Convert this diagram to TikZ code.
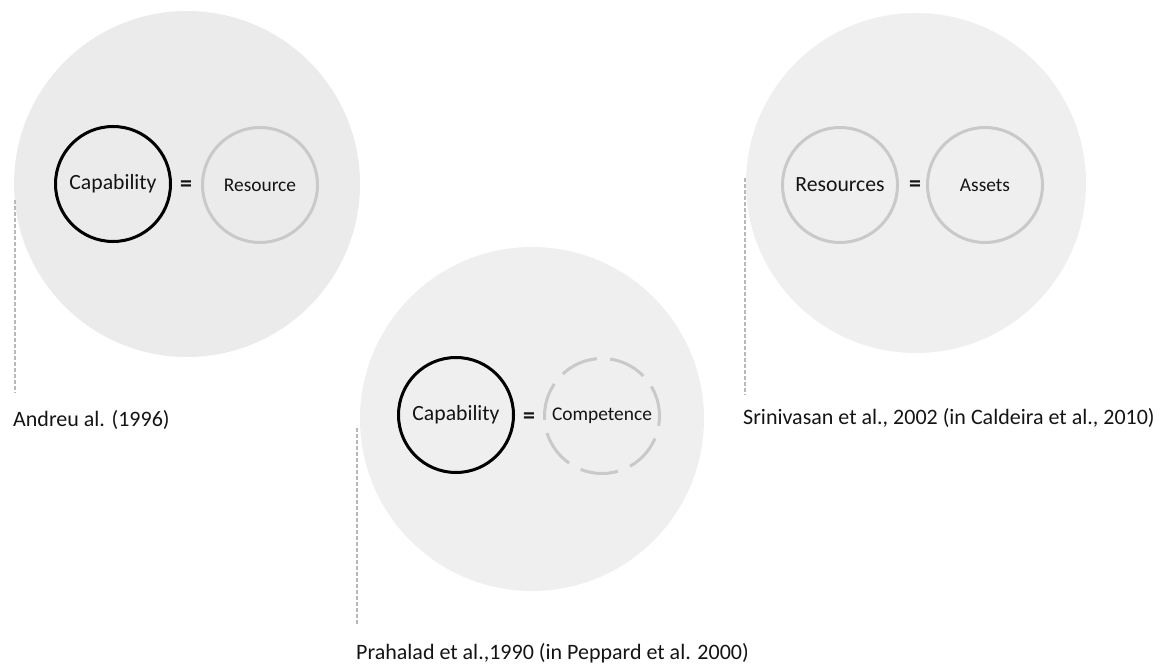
\documentclass[tikz,border=0pt]{standalone}
\usepackage{fontspec}
\setmainfont{Carlito}
\begin{document}
\begin{tikzpicture}[x=1pt,y=-1pt,
  disc/.style={circle,inner sep=0pt,minimum size=#1,draw=none},
  keyring/.style={circle,inner sep=0pt,minimum size=115pt,line width=3pt,draw=black},
  softring/.style={circle,inner sep=0pt,minimum size=115pt,line width=3pt,draw=ringgray},
  dashring/.style={softring,dash pattern=on 38pt off 13.2pt,dash phase=7pt},
  bigword/.style={font=\fontsize{21.7}{26}\selectfont,text=textgray},
  smallword/.style={font=\fontsize{19.4}{23}\selectfont,text=textgray},
  eqsign/.style={font=\fontsize{24}{28}\selectfont\bfseries,text=textgray},
  cite/.style={anchor=west,inner sep=0pt,font=\fontsize{22}{27}\selectfont,text=textgray},
  leader/.style={draw=leadergray,line width=1.2pt,dash pattern=on 4pt off 2pt}
]
\definecolor{ringgray}{HTML}{C9C9C9}
\definecolor{leadergray}{HTML}{B8B8B8}
\definecolor{textgray}{HTML}{141414}
\definecolor{discA}{HTML}{EBEBEB}
\definecolor{discB}{HTML}{EFEFEF}

\useasboundingbox (0,0) rectangle (1159,666);

% background discs
\node[disc=346pt,fill=discA] (d1) at (187,184) {};
\node[disc=344pt,fill=discB] (d2) at (532,419) {};
\node[disc=340pt,fill=discB] (d3) at (916,183) {};

% first group
\node[keyring,bigword] (cap1) at (113,184) {Capability};
\node[softring,smallword] (res1) at (260,185) {Resource};
\node[eqsign] (eq1) at (186,186) {=};

% second group
\node[keyring,bigword] (cap2) at (456,415) {Capability};
\node[dashring,smallword] (comp) at (602,416) {Competence};
\node[eqsign] (eq2) at (529,418) {=};

% third group
\node[softring,bigword] (res3) at (840,185) {Resources};
\node[softring,smallword] (ast) at (985,185) {Assets};
\node[eqsign] (eq3) at (915,186) {=};

% citations with leader lines
\node[cite] (l1) at (13,420) {Andreu al. (1996)};
\node[cite] (l2) at (356,653) {Prahalad et al.,1990 (in Peppard et al. 2000)};
\node[cite] (l3) at (743,418) {Srinivasan et al., 2002 (in Caldeira et al., 2010)};

\coordinate (t1) at (15,200);
\coordinate (b1) at (15,393);
\coordinate (t2) at (357,428);
\coordinate (b2) at (357,625);
\coordinate (t3) at (745,178);
\coordinate (b3) at (745,395);
\draw[leader] (t1) -- (b1);
\draw[leader] (t2) -- (b2);
\draw[leader] (t3) -- (b3);
\end{tikzpicture}
\end{document}
